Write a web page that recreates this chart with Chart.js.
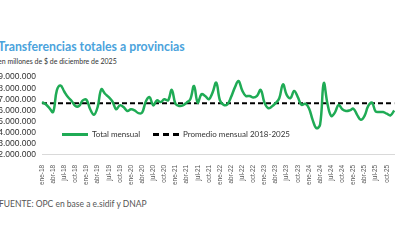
<!DOCTYPE html>
<html>
<head>
<meta charset="utf-8">
<script src="https://cdn.jsdelivr.net/npm/chart.js@4.4.1/dist/chart.umd.min.js"></script>
<style>
  body { margin: 0; width: 400px; height: 250px; overflow: hidden; background: #fff; font-family: "Lato", "Noto Sans", sans-serif; position: relative; }
  #title { position: absolute; left: -2px; top: 39px; font-size: 12.3px; font-weight: bold; color: #4ba3dc; white-space: nowrap; }
  #subtitle { position: absolute; left: -2px; top: 57px; font-size: 7px; color: #333; white-space: nowrap; }
  #wrap { position: absolute; left: 0; top: 66px; width: 404px; height: 121px; }
  #source { position: absolute; left: -1px; top: 199px; font-size: 8.5px; color: #555; white-space: nowrap; }
  .leg { position: absolute; top: 129px; font-size: 8px; color: #333; white-space: nowrap; display: flex; align-items: center; }
  .sample { display: inline-block; width: 26px; margin-right: 4px; }
</style>
</head>
<body>
<div id="title">Transferencias totales a provincias</div>
<div id="subtitle">en millones de $ de diciembre de 2025</div>
<div id="wrap"><canvas id="chart"></canvas></div>
<div class="leg" style="left:62px"><span class="sample" style="border-top:3px solid #1fab55"></span>Total mensual</div>
<div class="leg" style="left:153px"><span class="sample" style="border-top:3px dashed #000"></span>Promedio mensual 2018-2025</div>
<div id="source">FUENTE: OPC en base a e.sidif y DNAP</div>

<script>
// months ene-18 .. dic-25
const meses = ["ene", "feb", "mar", "abr", "may", "jun", "jul", "ago", "sep", "oct", "nov", "dic"];
const anios = ["18", "19", "20", "21", "22", "23", "24", "25"];

// total mensual (in millions of the axis unit)
const totalMensual = [
    6.75, 6.55, 6.2, 5.85, 7.8, 8.25, 7.7, 7.2, 6.85, 6.4, 6.4, 6.9,
    6.95, 6.1, 5.6, 6.3, 7.9, 7.5, 7.2, 6.8, 6.1, 6.45, 6.3, 5.95,
    6.1, 6.0, 5.75, 5.8, 6.8, 7.2, 6.45, 6.9, 6.75, 7.0, 6.9, 7.85,
    6.6, 6.4, 6.45, 6.7, 7.0, 8.2, 6.7, 7.45, 7.3, 7.0, 7.6, 8.5,
    6.9, 6.5, 6.55, 7.2, 8.05, 8.65, 7.8, 7.3, 7.3, 7.15, 7.3, 7.85,
    6.7, 6.2, 6.35, 6.65, 7.1, 8.35, 7.4, 7.1, 7.75, 7.2, 6.5, 6.6,
    6.2, 5.15, 4.4, 4.7, 8.45, 6.6, 5.5, 5.8, 6.5, 6.1, 5.95, 6.0,
    6.15, 5.6, 5.15, 5.5, 6.4, 6.7, 5.9, 5.85, 5.85, 5.7, 5.55, 6.0
];
const promedioMensual = 6.65;

const yTicks = [2, 3, 4, 5, 6, 7, 8, 9];
const yTickLabels = ["2.000.000", "3.000.000", "4.000.000", "5.000.000", "6.000.000", "7.000.000", "8.000.000", "9.000.000"];

const labels = [];
anios.forEach(a => meses.forEach(m => labels.push(m + "-" + a)));

new Chart(document.getElementById("chart"), {
    type: "line",
    data: {
        labels: labels,
        datasets: [
            {
                label: "Total mensual",
                data: totalMensual,
                borderColor: "#1fab55",
                borderWidth: 2.5,
                tension: 0.4,
                pointRadius: 0,
            },
            {
                label: "Promedio mensual 2018-2025",
                data: labels.map(() => promedioMensual),
                borderColor: "#000",
                borderWidth: 2,
                borderDash: [5, 3],
                pointRadius: 0,
            },
        ],
    },
    options: {
        responsive: true,
        maintainAspectRatio: false,
        animation: false,
        layout: { padding: 0 },
        plugins: {
            legend: { display: false },
            tooltip: { enabled: false },
        },
        scales: {
            x: {
                offset: false,
                grid: { display: false },
                border: { display: true, color: "#d9d9d9" },
                ticks: {
                    autoSkip: false,
                    maxRotation: 90,
                    minRotation: 90,
                    padding: 2,
                    color: "#555",
                    font: { size: 6.5 },
                    callback: (v, i) => (i % 3 === 0 ? labels[i] : ""),
                },
            },
            y: {
                min: 2,
                max: 9,
                afterBuildTicks: (s) => { s.ticks = yTicks.map(v => ({ value: v })); },
                afterFit: (s) => { s.width = 42; },
                grid: { display: false, drawTicks: false },
                border: { display: false },
                ticks: {
                    autoSkip: false,
                    padding: 6,
                    color: "#333",
                    font: { size: 8.5 },
                    callback: (v) => yTickLabels[yTicks.indexOf(v)],
                },
            },
        },
    },
});
</script>
</body>
</html>
